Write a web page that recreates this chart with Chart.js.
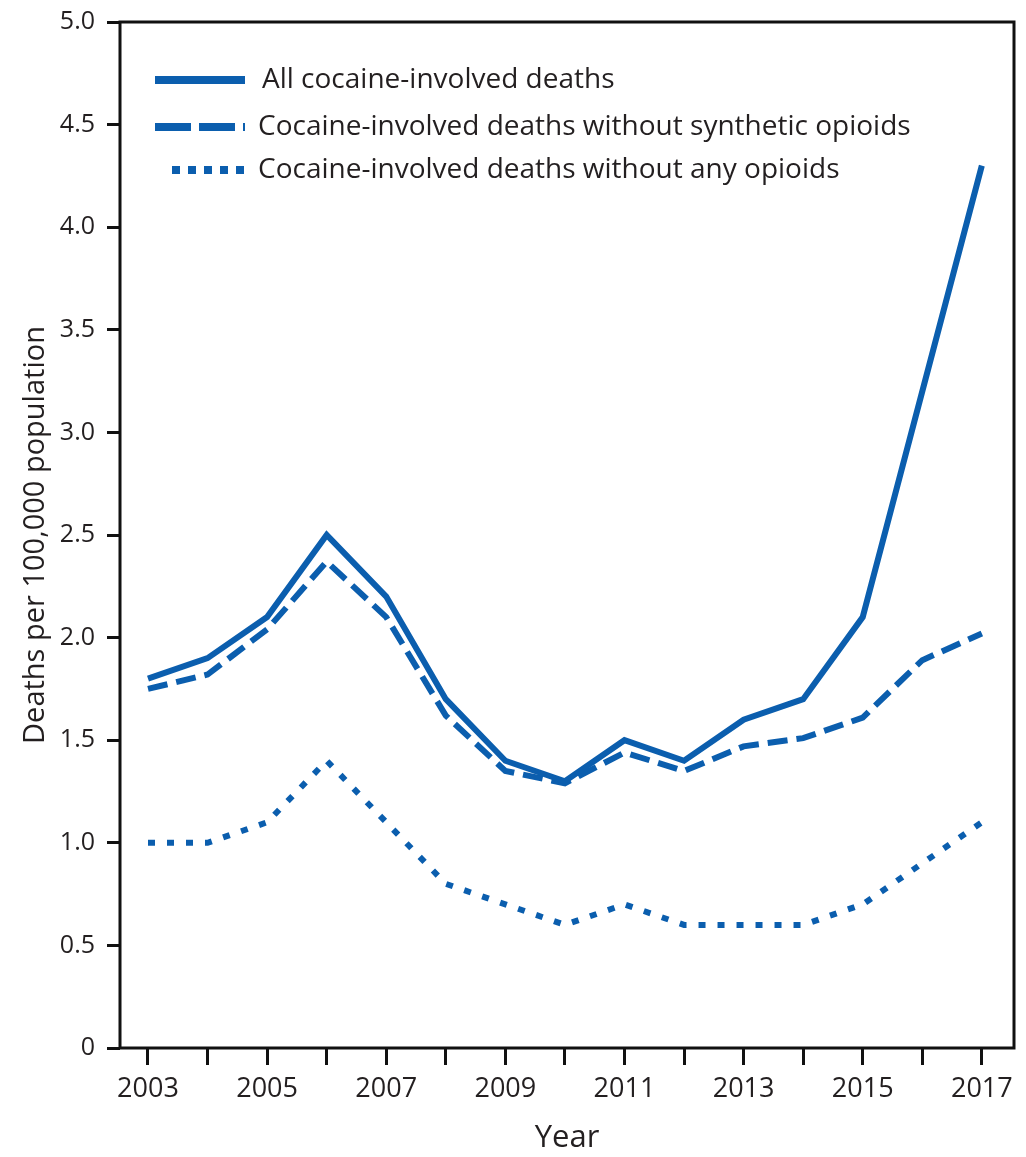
<!DOCTYPE html>
<html>
<head>
<meta charset="utf-8">
<script src="https://cdn.jsdelivr.net/npm/chart.js@4"></script>
<style>
  body { margin: 0; background: #fff; }
  #wrap { width: 1026px; height: 1157px; }
</style>
</head>
<body>
<div id="wrap"><canvas id="the-chart" width="1026" height="1157"></canvas></div>
<script>
// Cocaine-involved overdose death rates, 2003-2017

const years = [2003, 2004, 2005, 2006, 2007, 2008, 2009, 2010, 2011, 2012, 2013, 2014, 2015, 2016, 2017];
const allCocaine = [1.8, 1.9, 2.1, 2.5, 2.2, 1.7, 1.4, 1.3, 1.5, 1.4, 1.6, 1.7, 2.1, 3.2, 4.3];
const withoutSynthetic = [1.75, 1.82, 2.04, 2.37, 2.1, 1.62, 1.35, 1.29, 1.44, 1.35, 1.47, 1.51, 1.61, 1.89, 2.02];
const withoutAnyOpioids = [1.0, 1.0, 1.1, 1.4, 1.1, 0.8, 0.7, 0.6, 0.7, 0.6, 0.6, 0.6, 0.7, 0.9, 1.1];
const seriesLabels = [
  'All cocaine-involved deaths',
  'Cocaine-involved deaths without synthetic opioids',
  'Cocaine-involved deaths without any opioids'
];

const blue = '#0b5eae';
const textColor = '#231f20';
const fontName = '"Open Sans", "DejaVu Sans", sans-serif';

function toPoints(values) {
  return values.map((v, i) => { return { x: years[i], y: v } });
}

// Legend drawn inside the plot, top left.
const insideLegend = {
  id: 'insideLegend',
  afterDraw(chart) {
    const ctx = chart.ctx;
    const rows = [
      { y: 80, x0: 155, x1: 245, tx: 262 },
      { y: 127, x0: 155, x1: 245, tx: 258 },
      { y: 170, x0: 172, x1: 245, tx: 258 }
    ];
    ctx.save();
    chart.data.datasets.forEach((ds, i) => {
      const r = rows[i];
      ctx.strokeStyle = ds.borderColor;
      ctx.lineWidth = 8;
      ctx.lineCap = 'butt';
      ctx.setLineDash(i === 0 ? [] : (i === 1 ? [36, 8] : [8, 8]));
      ctx.beginPath();
      ctx.moveTo(r.x0, r.y);
      ctx.lineTo(r.x1, r.y);
      ctx.stroke();
      ctx.setLineDash([]);
      ctx.fillStyle = textColor;
      ctx.font = '28px ' + fontName;
      ctx.textBaseline = 'middle';
      ctx.fillText(ds.label, r.tx, r.y);
    });
    ctx.restore();
  }
};

// Black frame round the plot area.
const frame = {
  id: 'frame',
  afterDraw(chart) {
    const a = chart.chartArea;
    const ctx = chart.ctx;
    ctx.save();
    ctx.strokeStyle = '#111';
    ctx.lineWidth = 3;
    ctx.strokeRect(a.left, a.top, a.right - a.left, a.bottom - a.top);
    ctx.restore();
  }
};

const ctx = document.getElementById('the-chart');
const theChart = new Chart(ctx, {
  type: 'line',
  data: {
    datasets: [
      {
        label: seriesLabels[0],
        data: toPoints(allCocaine),
        borderColor: blue,
        borderWidth: 6,
        pointRadius: 0,
        tension: 0
      },
      {
        label: seriesLabels[1],
        data: toPoints(withoutSynthetic),
        borderColor: blue,
        borderWidth: 6,
        borderDash: [20, 9],
        pointRadius: 0,
        tension: 0
      },
      {
        label: seriesLabels[2],
        data: toPoints(withoutAnyOpioids),
        borderColor: blue,
        borderWidth: 6,
        borderDash: [7, 12],
        borderCapStyle: 'butt',
        pointRadius: 0,
        tension: 0
      }
    ]
  },
  options: {
    responsive: false,
    animation: false,
    layout: { padding: { top: 22, right: 12, left: 0, bottom: 0 } },
    plugins: {
      legend: { display: false },
      tooltip: { enabled: false }
    },
    scales: {
      x: {
        type: 'linear',
        min: 2002.53,
        max: 2017.54,
        afterBuildTicks: (scale) => {
          scale.ticks = years.map((y) => { return { value: y } });
        },
        afterFit: (scale) => {
          scale.height = 109;
          scale.paddingRight = 0;
        },
        border: { display: false },
        grid: {
          drawOnChartArea: false,
          color: '#111',
          lineWidth: 3,
          tickLength: 17
        },
        ticks: {
          color: textColor,
          font: { family: fontName, size: 27 },
          padding: 8,
          maxRotation: 0,
          autoSkip: false,
          callback: (v) => (v % 2 === 1 ? String(v) : '')
        },
        title: {
          display: true,
          text: 'Year',
          color: textColor,
          font: { family: fontName, size: 31 },
          padding: { top: 6, bottom: 0 }
        }
      },
      y: {
        min: 0,
        max: 5,
        afterFit: (scale) => {
          scale.width = 120;
          scale.paddingTop = 0;
        },
        border: { display: false },
        grid: {
          drawOnChartArea: false,
          color: '#111',
          lineWidth: 3,
          tickLength: 13
        },
        ticks: {
          stepSize: 0.5,
          color: textColor,
          font: { family: fontName, size: 25 },
          padding: 12,
          callback: (v) => (v === 0 ? '0' : v.toFixed(1))
        },
        title: {
          display: true,
          text: 'Deaths per 100,000 population',
          color: textColor,
          font: { family: fontName, size: 29 },
          padding: { top: 18, bottom: 0 }
        }
      }
    }
  },
  plugins: [insideLegend, frame]
});
</script>
</body>
</html>
